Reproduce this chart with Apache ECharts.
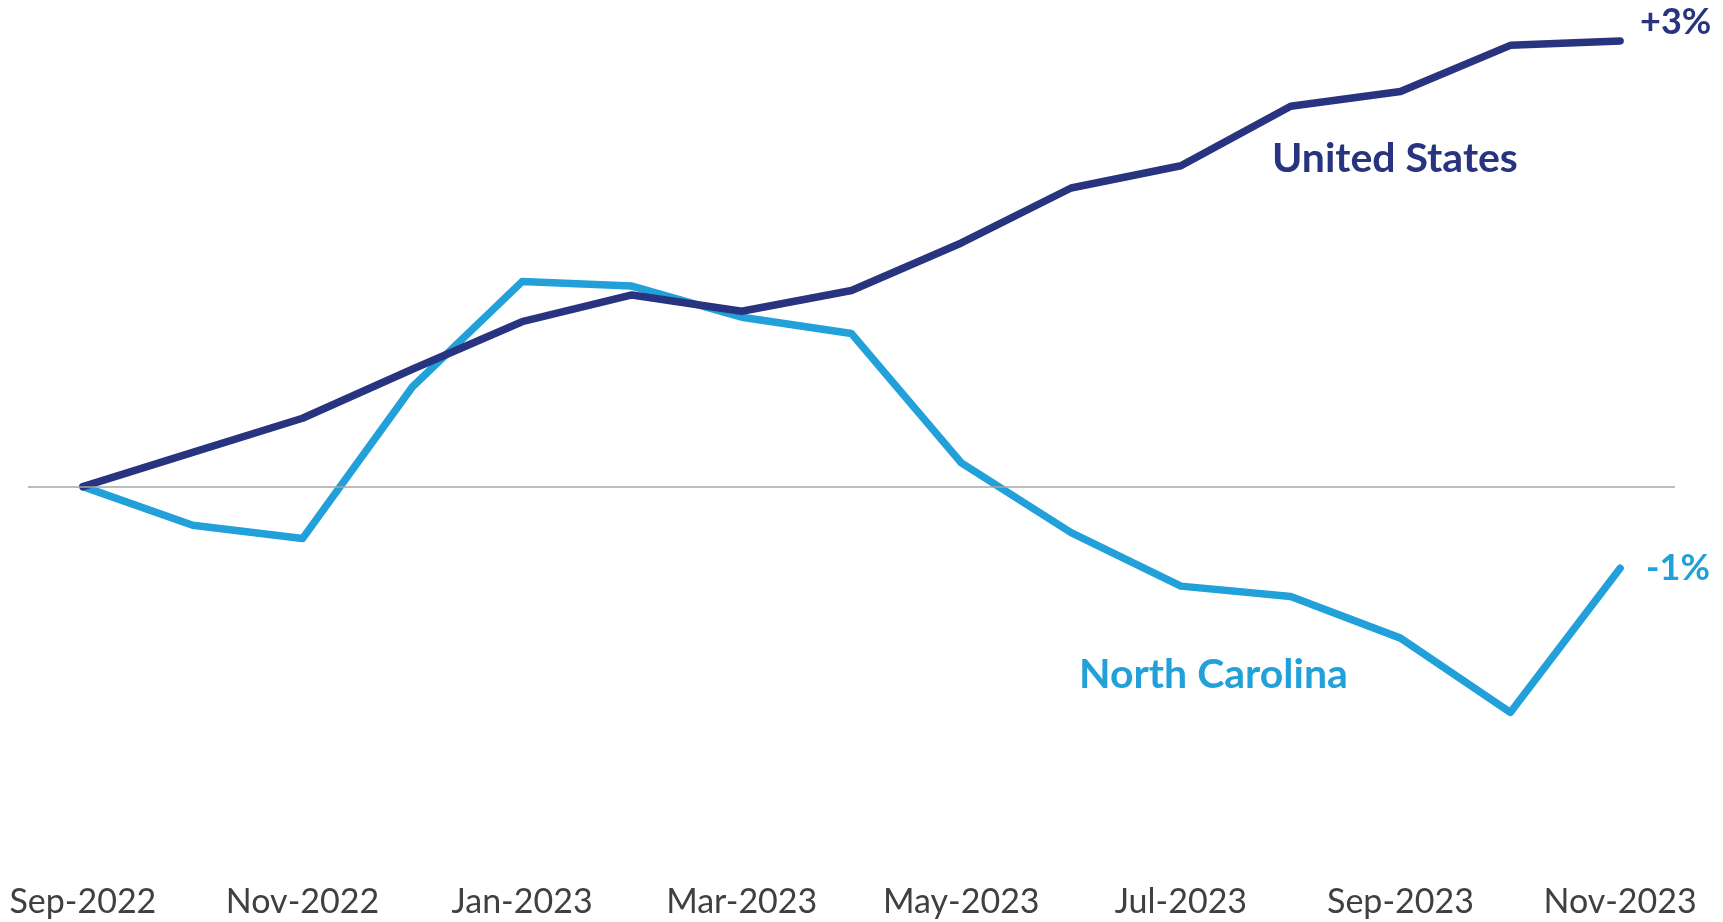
<!DOCTYPE html>
<html>
<head>
<meta charset="utf-8">
<script src="https://cdn.jsdelivr.net/npm/echarts@6/dist/echarts.min.js"></script>
<style>
html,body{margin:0;padding:0;background:#fff;}
#chart{width:1723px;height:922px;}
</style>
</head>
<body>
<div id="chart"></div>
<script>
const categories = ['Sep-2022','Oct-2022','Nov-2022','Dec-2022','Jan-2023','Feb-2023','Mar-2023','Apr-2023','May-2023','Jun-2023','Jul-2023','Aug-2023','Sep-2023','Oct-2023','Nov-2023'];
const unitedStates = [0, 0.23, 0.46, 0.79, 1.11, 1.29, 1.18, 1.32, 1.64, 2.01, 2.16, 2.56, 2.66, 2.97, 3.00];
const northCarolina = [0, -0.26, -0.35, 0.67, 1.38, 1.35, 1.14, 1.03, 0.16, -0.31, -0.67, -0.74, -1.02, -1.52, -0.55];
const seriesNames = ['United States', 'North Carolina'];
const endLabels = ['+3%', '-1%'];

const US_COLOR = '#28347f';
const NC_COLOR = '#22a0d9';
const FONT = 'Lato, "Open Sans", sans-serif';

const chart = echarts.init(document.getElementById('chart'));
chart.setOption({
  backgroundColor: '#ffffff',
  animation: false,
  grid: { left: 28, right: 48, top: 11.2, bottom: 64 },
  xAxis: {
    type: 'category',
    data: categories,
    boundaryGap: true,
    axisLine: { show: false },
    axisTick: { show: false },
    axisLabel: {
      interval: 1,
      color: '#404040',
      fontSize: 34,
      fontFamily: FONT,
      margin: 27
    },
    splitLine: { show: false }
  },
  yAxis: {
    type: 'value',
    min: -2.5,
    max: 3.2,
    show: false,
    splitLine: { show: false }
  },
  series: [
    {
      name: seriesNames[1],
      type: 'line',
      data: northCarolina,
      symbol: 'none',
      lineStyle: { color: NC_COLOR, width: 7.5, cap: 'round', join: 'round' },
      itemStyle: { color: NC_COLOR },
      endLabel: {
        show: true,
        formatter: () => endLabels[1],
        color: NC_COLOR,
        fontSize: 36,
        fontWeight: 'bold',
        fontFamily: FONT,
        distance: 26,
        offset: [0, 0]
      },
      markLine: {
        silent: true,
        symbol: 'none',
        label: { show: false },
        lineStyle: { color: '#a6a6a6', width: 1.5, type: 'solid' },
        data: [{ yAxis: 0 }]
      }
    },
    {
      name: seriesNames[0],
      type: 'line',
      data: unitedStates,
      symbol: 'none',
      lineStyle: { color: US_COLOR, width: 7.5, cap: 'round', join: 'round' },
      itemStyle: { color: US_COLOR },
      endLabel: {
        show: true,
        formatter: () => endLabels[0],
        color: US_COLOR,
        fontSize: 36,
        fontWeight: 'bold',
        fontFamily: FONT,
        distance: 20,
        offset: [0, -19]
      }
    }
  ],
  graphic: [
    {
      type: 'text',
      left: 1272,
      top: 138,
      style: {
        text: seriesNames[0],
        fill: US_COLOR,
        font: 'bold 41px ' + FONT
      }
    },
    {
      type: 'text',
      left: 1079,
      top: 654,
      style: {
        text: seriesNames[1],
        fill: NC_COLOR,
        font: 'bold 41px ' + FONT
      }
    }
  ]
});
</script>
</body>
</html>
